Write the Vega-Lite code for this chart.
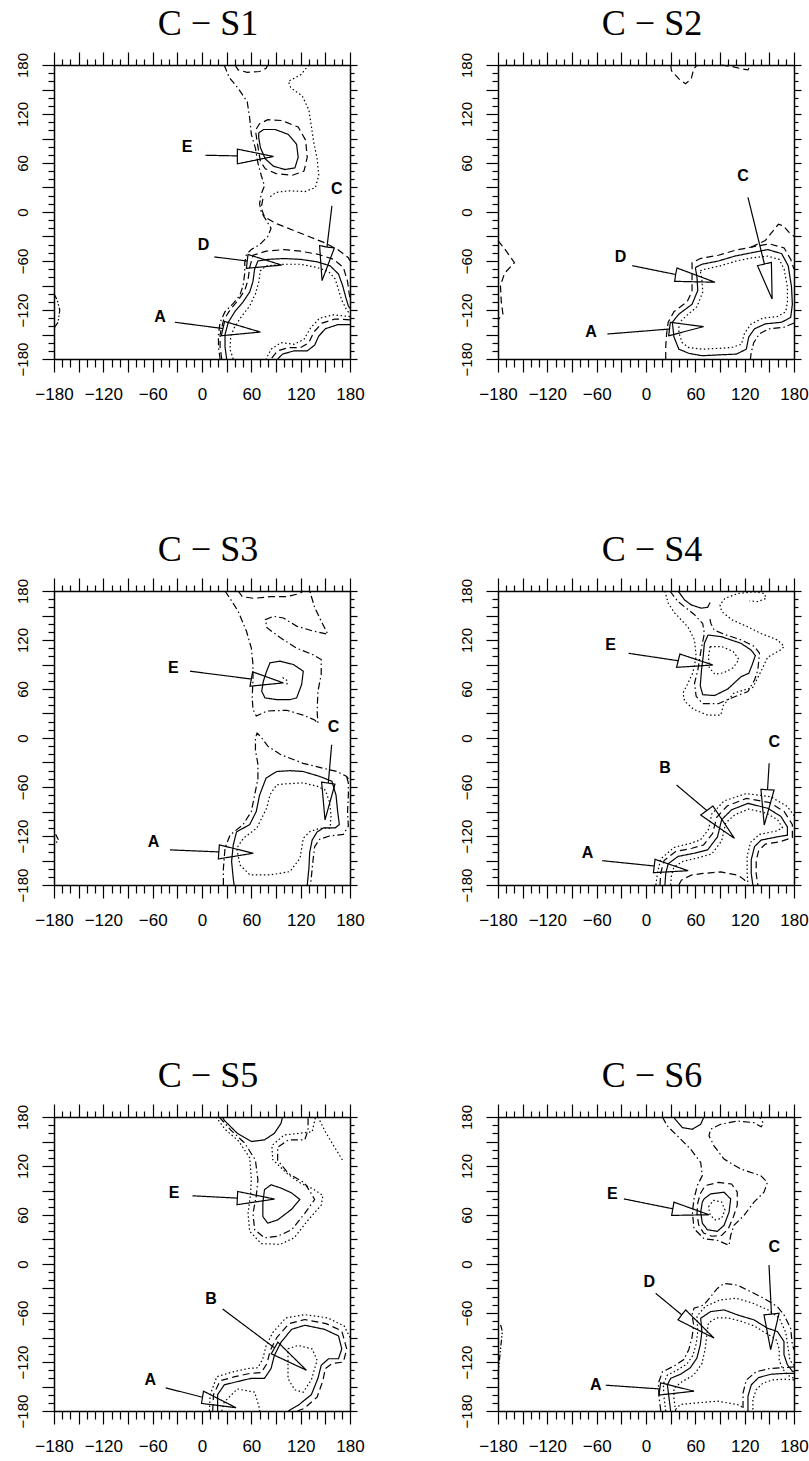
{
"$schema":"https://vega.github.io/schema/vega-lite/v6.json",
"background":"white",
"padding":{"left":14,"top":6,"right":2,"bottom":2},
"config":{
 "view":{"stroke":null},
 "title":{"font":"Liberation Serif","fontSize":36,"fontWeight":"normal","color":"black","anchor":"middle","frame":"group","offset":8,"dx":6},
 "axis":{"grid":false,"title":null,"domainColor":"black","domainWidth":1.5,"tickColor":"black","tickWidth":1.2,"labelColor":"black","labelFont":"Liberation Sans","labelFlush":false,"labelOverlap":false,"labelBound":false}
},
"datasets":{
"lines":[
{"p":1,"c":"a","s":"dd","x":27,"y":180},{"p":1,"c":"a","s":"dd","x":33,"y":165},{"p":1,"c":"a","s":"dd","x":45,"y":150},{"p":1,"c":"a","s":"dd","x":55,"y":135},{"p":1,"c":"a","s":"dd","x":58,"y":115},{"p":1,"c":"a","s":"dd","x":60,"y":95},{"p":1,"c":"a","s":"dd","x":65,"y":78},{"p":1,"c":"a","s":"dd","x":68,"y":60},{"p":1,"c":"a","s":"dd","x":72,"y":45},{"p":1,"c":"a","s":"dd","x":76,"y":32},{"p":1,"c":"a","s":"dd","x":72,"y":22},{"p":1,"c":"a","s":"dd","x":70,"y":10},{"p":1,"c":"a","s":"dd","x":72,"y":0},{"p":1,"c":"a","s":"dd","x":78,"y":-10},{"p":1,"c":"a","s":"dd","x":84,"y":-20},{"p":1,"c":"a","s":"dd","x":80,"y":-30},{"p":1,"c":"a","s":"dd","x":70,"y":-40},{"p":1,"c":"a","s":"dd","x":60,"y":-46},{"p":1,"c":"a","s":"dd","x":54,"y":-52},{"p":1,"c":"a","s":"dd","x":52,"y":-62},{"p":1,"c":"a","s":"dd","x":52,"y":-75},{"p":1,"c":"a","s":"dd","x":50,"y":-90},{"p":1,"c":"a","s":"dd","x":46,"y":-102},{"p":1,"c":"a","s":"dd","x":38,"y":-112},{"p":1,"c":"a","s":"dd","x":28,"y":-122},{"p":1,"c":"a","s":"dd","x":22,"y":-135},{"p":1,"c":"a","s":"dd","x":20,"y":-150},{"p":1,"c":"a","s":"dd","x":20,"y":-165},{"p":1,"c":"a","s":"dd","x":22,"y":-180},
{"p":1,"c":"b","s":"dot","x":130,"y":180},{"p":1,"c":"b","s":"dot","x":120,"y":168},{"p":1,"c":"b","s":"dot","x":105,"y":160},{"p":1,"c":"b","s":"dot","x":108,"y":152},{"p":1,"c":"b","s":"dot","x":122,"y":142},{"p":1,"c":"b","s":"dot","x":130,"y":125},{"p":1,"c":"b","s":"dot","x":133,"y":105},{"p":1,"c":"b","s":"dot","x":136,"y":85},{"p":1,"c":"b","s":"dot","x":140,"y":65},{"p":1,"c":"b","s":"dot","x":142,"y":45},{"p":1,"c":"b","s":"dot","x":138,"y":30},{"p":1,"c":"b","s":"dot","x":125,"y":25},{"p":1,"c":"b","s":"dot","x":105,"y":26},{"p":1,"c":"b","s":"dot","x":90,"y":24},{"p":1,"c":"b","s":"dot","x":82,"y":18},
{"p":1,"c":"c","s":"dash","x":74,"y":16},{"p":1,"c":"c","s":"dash","x":72,"y":5},{"p":1,"c":"c","s":"dash","x":76,"y":-6},{"p":1,"c":"c","s":"dash","x":90,"y":-14},{"p":1,"c":"c","s":"dash","x":110,"y":-22},{"p":1,"c":"c","s":"dash","x":130,"y":-30},{"p":1,"c":"c","s":"dash","x":150,"y":-38},{"p":1,"c":"c","s":"dash","x":165,"y":-46},{"p":1,"c":"c","s":"dash","x":178,"y":-56},{"p":1,"c":"c","s":"dash","x":180,"y":-60},
{"p":1,"c":"d","s":"dash","x":40,"y":180},{"p":1,"c":"d","s":"dash","x":44,"y":174},{"p":1,"c":"d","s":"dash","x":55,"y":171},{"p":1,"c":"d","s":"dash","x":70,"y":172},{"p":1,"c":"d","s":"dash","x":78,"y":176},{"p":1,"c":"d","s":"dash","x":80,"y":180},
{"p":1,"c":"e","s":"solid","x":69,"y":97},{"p":1,"c":"e","s":"solid","x":75,"y":101},{"p":1,"c":"e","s":"solid","x":89,"y":101},{"p":1,"c":"e","s":"solid","x":105,"y":95},{"p":1,"c":"e","s":"solid","x":115,"y":83},{"p":1,"c":"e","s":"solid","x":117,"y":67},{"p":1,"c":"e","s":"solid","x":113,"y":54},{"p":1,"c":"e","s":"solid","x":101,"y":52},{"p":1,"c":"e","s":"solid","x":87,"y":56},{"p":1,"c":"e","s":"solid","x":77,"y":65},{"p":1,"c":"e","s":"solid","x":71,"y":79},{"p":1,"c":"e","s":"solid","x":69,"y":91},{"p":1,"c":"e","s":"solid","x":69,"y":97},
{"p":1,"c":"f","s":"dash","x":71,"y":62},{"p":1,"c":"f","s":"dash","x":68,"y":80},{"p":1,"c":"f","s":"dash","x":65,"y":100},{"p":1,"c":"f","s":"dash","x":70,"y":108},{"p":1,"c":"f","s":"dash","x":80,"y":113},{"p":1,"c":"f","s":"dash","x":97,"y":112},{"p":1,"c":"f","s":"dash","x":117,"y":104},{"p":1,"c":"f","s":"dash","x":126,"y":88},{"p":1,"c":"f","s":"dash","x":128,"y":67},{"p":1,"c":"f","s":"dash","x":124,"y":50},{"p":1,"c":"f","s":"dash","x":110,"y":45},{"p":1,"c":"f","s":"dash","x":90,"y":47},{"p":1,"c":"f","s":"dash","x":77,"y":53},{"p":1,"c":"f","s":"dash","x":71,"y":62},
{"p":1,"c":"g","s":"solid","x":30,"y":-180},{"p":1,"c":"g","s":"solid","x":28,"y":-165},{"p":1,"c":"g","s":"solid","x":28,"y":-150},{"p":1,"c":"g","s":"solid","x":32,"y":-135},{"p":1,"c":"g","s":"solid","x":40,"y":-122},{"p":1,"c":"g","s":"solid","x":50,"y":-110},{"p":1,"c":"g","s":"solid","x":58,"y":-98},{"p":1,"c":"g","s":"solid","x":62,"y":-85},{"p":1,"c":"g","s":"solid","x":64,"y":-70},{"p":1,"c":"g","s":"solid","x":68,"y":-60},{"p":1,"c":"g","s":"solid","x":80,"y":-58},{"p":1,"c":"g","s":"solid","x":100,"y":-57},{"p":1,"c":"g","s":"solid","x":120,"y":-58},{"p":1,"c":"g","s":"solid","x":140,"y":-61},{"p":1,"c":"g","s":"solid","x":156,"y":-66},{"p":1,"c":"g","s":"solid","x":166,"y":-76},{"p":1,"c":"g","s":"solid","x":171,"y":-90},{"p":1,"c":"g","s":"solid","x":175,"y":-105},{"p":1,"c":"g","s":"solid","x":178,"y":-115},{"p":1,"c":"g","s":"solid","x":180,"y":-118},
{"p":1,"c":"h","s":"dash","x":24,"y":-180},{"p":1,"c":"h","s":"dash","x":22,"y":-165},{"p":1,"c":"h","s":"dash","x":22,"y":-150},{"p":1,"c":"h","s":"dash","x":26,"y":-133},{"p":1,"c":"h","s":"dash","x":34,"y":-120},{"p":1,"c":"h","s":"dash","x":44,"y":-108},{"p":1,"c":"h","s":"dash","x":52,"y":-96},{"p":1,"c":"h","s":"dash","x":56,"y":-83},{"p":1,"c":"h","s":"dash","x":58,"y":-68},{"p":1,"c":"h","s":"dash","x":62,"y":-53},{"p":1,"c":"h","s":"dash","x":78,"y":-48},{"p":1,"c":"h","s":"dash","x":100,"y":-46},{"p":1,"c":"h","s":"dash","x":120,"y":-48},{"p":1,"c":"h","s":"dash","x":142,"y":-52},{"p":1,"c":"h","s":"dash","x":160,"y":-58},{"p":1,"c":"h","s":"dash","x":172,"y":-68},{"p":1,"c":"h","s":"dash","x":177,"y":-85},{"p":1,"c":"h","s":"dash","x":179,"y":-100},{"p":1,"c":"h","s":"dash","x":180,"y":-105},
{"p":1,"c":"i","s":"dot","x":38,"y":-180},{"p":1,"c":"i","s":"dot","x":34,"y":-168},{"p":1,"c":"i","s":"dot","x":35,"y":-152},{"p":1,"c":"i","s":"dot","x":40,"y":-140},{"p":1,"c":"i","s":"dot","x":48,"y":-128},{"p":1,"c":"i","s":"dot","x":58,"y":-115},{"p":1,"c":"i","s":"dot","x":65,"y":-100},{"p":1,"c":"i","s":"dot","x":69,"y":-86},{"p":1,"c":"i","s":"dot","x":71,"y":-72},{"p":1,"c":"i","s":"dot","x":78,"y":-66},{"p":1,"c":"i","s":"dot","x":100,"y":-64},{"p":1,"c":"i","s":"dot","x":120,"y":-64},{"p":1,"c":"i","s":"dot","x":140,"y":-68},{"p":1,"c":"i","s":"dot","x":154,"y":-73},{"p":1,"c":"i","s":"dot","x":162,"y":-82},{"p":1,"c":"i","s":"dot","x":166,"y":-95},{"p":1,"c":"i","s":"dot","x":170,"y":-108},{"p":1,"c":"i","s":"dot","x":176,"y":-120},{"p":1,"c":"i","s":"dot","x":180,"y":-125},
{"p":1,"c":"k","s":"solid","x":180,"y":-138},{"p":1,"c":"k","s":"solid","x":165,"y":-138},{"p":1,"c":"k","s":"solid","x":150,"y":-143},{"p":1,"c":"k","s":"solid","x":142,"y":-152},{"p":1,"c":"k","s":"solid","x":137,"y":-163},{"p":1,"c":"k","s":"solid","x":128,"y":-170},{"p":1,"c":"k","s":"solid","x":112,"y":-170},{"p":1,"c":"k","s":"solid","x":98,"y":-174},{"p":1,"c":"k","s":"solid","x":92,"y":-180},
{"p":1,"c":"l","s":"dash","x":180,"y":-132},{"p":1,"c":"l","s":"dash","x":162,"y":-131},{"p":1,"c":"l","s":"dash","x":146,"y":-136},{"p":1,"c":"l","s":"dash","x":136,"y":-147},{"p":1,"c":"l","s":"dash","x":130,"y":-160},{"p":1,"c":"l","s":"dash","x":120,"y":-166},{"p":1,"c":"l","s":"dash","x":105,"y":-166},{"p":1,"c":"l","s":"dash","x":92,"y":-170},{"p":1,"c":"l","s":"dash","x":84,"y":-180},
{"p":1,"c":"m","s":"dot","x":180,"y":-128},{"p":1,"c":"m","s":"dot","x":160,"y":-126},{"p":1,"c":"m","s":"dot","x":143,"y":-130},{"p":1,"c":"m","s":"dot","x":132,"y":-142},{"p":1,"c":"m","s":"dot","x":124,"y":-156},{"p":1,"c":"m","s":"dot","x":112,"y":-162},{"p":1,"c":"m","s":"dot","x":96,"y":-160},{"p":1,"c":"m","s":"dot","x":84,"y":-168},{"p":1,"c":"m","s":"dot","x":78,"y":-180},
{"p":1,"c":"n","s":"ddd","x":-180,"y":-100},{"p":1,"c":"n","s":"ddd","x":-176,"y":-108},{"p":1,"c":"n","s":"ddd","x":-173,"y":-120},{"p":1,"c":"n","s":"ddd","x":-175,"y":-135},{"p":1,"c":"n","s":"ddd","x":-180,"y":-142},
{"p":1,"c":"aE","s":"arrow","x":4,"y":69.5},{"p":1,"c":"aE","s":"arrow","x":43,"y":68.7},{"p":1,"c":"aE","s":"arrow","x":43,"y":77},{"p":1,"c":"aE","s":"arrow","x":87,"y":68},{"p":1,"c":"aE","s":"arrow","x":43,"y":59},{"p":1,"c":"aE","s":"arrow","x":43,"y":68.7},
{"p":1,"c":"aD","s":"arrow","x":15,"y":-55},{"p":1,"c":"aD","s":"arrow","x":55,"y":-60},{"p":1,"c":"aD","s":"arrow","x":56,"y":-52},{"p":1,"c":"aD","s":"arrow","x":97,"y":-65},{"p":1,"c":"aD","s":"arrow","x":54,"y":-69},{"p":1,"c":"aD","s":"arrow","x":55,"y":-60},
{"p":1,"c":"aC","s":"arrow","x":158,"y":7.5},{"p":1,"c":"aC","s":"arrow","x":152,"y":-43},{"p":1,"c":"aC","s":"arrow","x":143,"y":-41},{"p":1,"c":"aC","s":"arrow","x":146,"y":-84},{"p":1,"c":"aC","s":"arrow","x":161,"y":-44},{"p":1,"c":"aC","s":"arrow","x":152,"y":-43},
{"p":1,"c":"aA","s":"arrow","x":-33,"y":-135},{"p":1,"c":"aA","s":"arrow","x":25.5,"y":-142.7},{"p":1,"c":"aA","s":"arrow","x":27.5,"y":-134},{"p":1,"c":"aA","s":"arrow","x":71,"y":-147},{"p":1,"c":"aA","s":"arrow","x":23.5,"y":-151.5},{"p":1,"c":"aA","s":"arrow","x":25.5,"y":-142.7},

{"p":2,"c":"a","s":"dash","x":30,"y":180},{"p":2,"c":"a","s":"dash","x":31,"y":173},{"p":2,"c":"a","s":"dash","x":40,"y":163},{"p":2,"c":"a","s":"dash","x":48,"y":157},{"p":2,"c":"a","s":"dash","x":55,"y":163},{"p":2,"c":"a","s":"dash","x":58,"y":175},{"p":2,"c":"a","s":"dash","x":62,"y":180},
{"p":2,"c":"b","s":"dash","x":92,"y":180},{"p":2,"c":"b","s":"dash","x":105,"y":178},{"p":2,"c":"b","s":"dash","x":118,"y":175},{"p":2,"c":"b","s":"dash","x":124,"y":174},{"p":2,"c":"b","s":"dash","x":127,"y":180},
{"p":2,"c":"c","s":"dash","x":-180,"y":-35},{"p":2,"c":"c","s":"dash","x":-172,"y":-45},{"p":2,"c":"c","s":"dash","x":-160,"y":-62},{"p":2,"c":"c","s":"dash","x":-172,"y":-75},{"p":2,"c":"c","s":"dash","x":-177,"y":-90},{"p":2,"c":"c","s":"dash","x":-176,"y":-110},{"p":2,"c":"c","s":"dash","x":-174,"y":-125},{"p":2,"c":"c","s":"dash","x":-180,"y":-132},
{"p":2,"c":"d","s":"solid","x":60,"y":-68},{"p":2,"c":"d","s":"solid","x":68,"y":-64},{"p":2,"c":"d","s":"solid","x":88,"y":-60},{"p":2,"c":"d","s":"solid","x":108,"y":-54},{"p":2,"c":"d","s":"solid","x":128,"y":-50},{"p":2,"c":"d","s":"solid","x":148,"y":-46},{"p":2,"c":"d","s":"solid","x":165,"y":-51},{"p":2,"c":"d","s":"solid","x":173,"y":-66},{"p":2,"c":"d","s":"solid","x":177,"y":-92},{"p":2,"c":"d","s":"solid","x":178,"y":-113},{"p":2,"c":"d","s":"solid","x":176,"y":-129},{"p":2,"c":"d","s":"solid","x":165,"y":-135},{"p":2,"c":"d","s":"solid","x":145,"y":-137},{"p":2,"c":"d","s":"solid","x":132,"y":-143},{"p":2,"c":"d","s":"solid","x":125,"y":-153},{"p":2,"c":"d","s":"solid","x":122,"y":-168},{"p":2,"c":"d","s":"solid","x":110,"y":-174},{"p":2,"c":"d","s":"solid","x":88,"y":-175},{"p":2,"c":"d","s":"solid","x":68,"y":-176},{"p":2,"c":"d","s":"solid","x":52,"y":-173},{"p":2,"c":"d","s":"solid","x":40,"y":-168},{"p":2,"c":"d","s":"solid","x":34,"y":-153},{"p":2,"c":"d","s":"solid","x":32,"y":-135},{"p":2,"c":"d","s":"solid","x":40,"y":-125},{"p":2,"c":"d","s":"solid","x":56,"y":-113},{"p":2,"c":"d","s":"solid","x":63,"y":-96},{"p":2,"c":"d","s":"solid","x":62,"y":-80},{"p":2,"c":"d","s":"solid","x":60,"y":-68},
{"p":2,"c":"e","s":"dash","x":24,"y":-180},{"p":2,"c":"e","s":"dash","x":24,"y":-165},{"p":2,"c":"e","s":"dash","x":25,"y":-150},{"p":2,"c":"e","s":"dash","x":27,"y":-135},{"p":2,"c":"e","s":"dash","x":34,"y":-122},{"p":2,"c":"e","s":"dash","x":50,"y":-110},{"p":2,"c":"e","s":"dash","x":56,"y":-97},{"p":2,"c":"e","s":"dash","x":56,"y":-80},{"p":2,"c":"e","s":"dash","x":56,"y":-62},{"p":2,"c":"e","s":"dash","x":66,"y":-57},{"p":2,"c":"e","s":"dash","x":88,"y":-53},{"p":2,"c":"e","s":"dash","x":108,"y":-47},{"p":2,"c":"e","s":"dash","x":128,"y":-43},{"p":2,"c":"e","s":"dash","x":150,"y":-39},{"p":2,"c":"e","s":"dash","x":168,"y":-44},{"p":2,"c":"e","s":"dash","x":176,"y":-58},{"p":2,"c":"e","s":"dash","x":180,"y":-70},
{"p":2,"c":"f","s":"dash","x":128,"y":-43},{"p":2,"c":"f","s":"dash","x":145,"y":-35},{"p":2,"c":"f","s":"dash","x":157,"y":-20},{"p":2,"c":"f","s":"dash","x":161,"y":-15},{"p":2,"c":"f","s":"dash","x":167,"y":-17},{"p":2,"c":"f","s":"dash","x":174,"y":-25},{"p":2,"c":"f","s":"dash","x":180,"y":-30},
{"p":2,"c":"g","s":"dd","x":180,"y":-136},{"p":2,"c":"g","s":"dd","x":168,"y":-141},{"p":2,"c":"g","s":"dd","x":150,"y":-143},{"p":2,"c":"g","s":"dd","x":138,"y":-149},{"p":2,"c":"g","s":"dd","x":131,"y":-160},{"p":2,"c":"g","s":"dd","x":128,"y":-172},{"p":2,"c":"g","s":"dd","x":127,"y":-180},
{"p":2,"c":"h","s":"dot","x":66,"y":-72},{"p":2,"c":"h","s":"dot","x":72,"y":-70},{"p":2,"c":"h","s":"dot","x":90,"y":-66},{"p":2,"c":"h","s":"dot","x":110,"y":-60},{"p":2,"c":"h","s":"dot","x":130,"y":-56},{"p":2,"c":"h","s":"dot","x":148,"y":-54},{"p":2,"c":"h","s":"dot","x":162,"y":-58},{"p":2,"c":"h","s":"dot","x":168,"y":-70},{"p":2,"c":"h","s":"dot","x":172,"y":-92},{"p":2,"c":"h","s":"dot","x":172,"y":-110},{"p":2,"c":"h","s":"dot","x":170,"y":-122},{"p":2,"c":"h","s":"dot","x":160,"y":-128},{"p":2,"c":"h","s":"dot","x":142,"y":-130},{"p":2,"c":"h","s":"dot","x":128,"y":-137},{"p":2,"c":"h","s":"dot","x":120,"y":-148},{"p":2,"c":"h","s":"dot","x":116,"y":-162},{"p":2,"c":"h","s":"dot","x":104,"y":-166},{"p":2,"c":"h","s":"dot","x":88,"y":-167},{"p":2,"c":"h","s":"dot","x":68,"y":-168},{"p":2,"c":"h","s":"dot","x":52,"y":-166},{"p":2,"c":"h","s":"dot","x":44,"y":-160},{"p":2,"c":"h","s":"dot","x":40,"y":-148},{"p":2,"c":"h","s":"dot","x":40,"y":-136},{"p":2,"c":"h","s":"dot","x":48,"y":-128},{"p":2,"c":"h","s":"dot","x":62,"y":-116},{"p":2,"c":"h","s":"dot","x":69,"y":-98},{"p":2,"c":"h","s":"dot","x":68,"y":-82},{"p":2,"c":"h","s":"dot","x":66,"y":-72},
{"p":2,"c":"aD","s":"arrow","x":-16.7,"y":-65.7},{"p":2,"c":"aD","s":"arrow","x":36,"y":-76.5},{"p":2,"c":"aD","s":"arrow","x":37.7,"y":-68.6},{"p":2,"c":"aD","s":"arrow","x":84,"y":-86},{"p":2,"c":"aD","s":"arrow","x":34.9,"y":-84.9},{"p":2,"c":"aD","s":"arrow","x":36,"y":-76.5},
{"p":2,"c":"aC","s":"arrow","x":124,"y":18},{"p":2,"c":"aC","s":"arrow","x":144,"y":-63.7},{"p":2,"c":"aC","s":"arrow","x":135.6,"y":-65.7},{"p":2,"c":"aC","s":"arrow","x":153.4,"y":-106.6},{"p":2,"c":"aC","s":"arrow","x":152.5,"y":-61.7},{"p":2,"c":"aC","s":"arrow","x":144,"y":-63.7},
{"p":2,"c":"aA","s":"arrow","x":-47,"y":-149.4},{"p":2,"c":"aA","s":"arrow","x":28.6,"y":-143.3},{"p":2,"c":"aA","s":"arrow","x":29.6,"y":-135.1},{"p":2,"c":"aA","s":"arrow","x":70,"y":-140.4},{"p":2,"c":"aA","s":"arrow","x":27.6,"y":-151.5},{"p":2,"c":"aA","s":"arrow","x":28.6,"y":-143.3},

{"p":3,"c":"a","s":"dd","x":28,"y":180},{"p":3,"c":"a","s":"dd","x":36,"y":168},{"p":3,"c":"a","s":"dd","x":44,"y":155},{"p":3,"c":"a","s":"dd","x":54,"y":131},{"p":3,"c":"a","s":"dd","x":60,"y":110},{"p":3,"c":"a","s":"dd","x":62,"y":90},{"p":3,"c":"a","s":"dd","x":62,"y":70},{"p":3,"c":"a","s":"dd","x":61,"y":50},{"p":3,"c":"a","s":"dd","x":62,"y":35},{"p":3,"c":"a","s":"dd","x":66,"y":27},{"p":3,"c":"a","s":"dd","x":79,"y":33},{"p":3,"c":"a","s":"dd","x":103,"y":34},{"p":3,"c":"a","s":"dd","x":123,"y":28},{"p":3,"c":"a","s":"dd","x":137,"y":22},{"p":3,"c":"a","s":"dd","x":141,"y":18},{"p":3,"c":"a","s":"dd","x":140,"y":33},{"p":3,"c":"a","s":"dd","x":141,"y":57},{"p":3,"c":"a","s":"dd","x":145,"y":78},{"p":3,"c":"a","s":"dd","x":145,"y":96},{"p":3,"c":"a","s":"dd","x":135,"y":102},{"p":3,"c":"a","s":"dd","x":115,"y":110},{"p":3,"c":"a","s":"dd","x":95,"y":123},{"p":3,"c":"a","s":"dd","x":79,"y":135},{"p":3,"c":"a","s":"dd","x":77,"y":145},{"p":3,"c":"a","s":"dd","x":87,"y":149},{"p":3,"c":"a","s":"dd","x":99,"y":147},{"p":3,"c":"a","s":"dd","x":115,"y":137},{"p":3,"c":"a","s":"dd","x":135,"y":131},{"p":3,"c":"a","s":"dd","x":153,"y":127},{"p":3,"c":"a","s":"dd","x":145,"y":143},{"p":3,"c":"a","s":"dd","x":137,"y":160},{"p":3,"c":"a","s":"dd","x":131,"y":180},
{"p":3,"c":"b","s":"dash","x":44,"y":180},{"p":3,"c":"b","s":"dash","x":49,"y":173},{"p":3,"c":"b","s":"dash","x":63,"y":171},{"p":3,"c":"b","s":"dash","x":83,"y":173},{"p":3,"c":"b","s":"dash","x":103,"y":173},{"p":3,"c":"b","s":"dash","x":119,"y":177},{"p":3,"c":"b","s":"dash","x":123,"y":180},
{"p":3,"c":"c","s":"solid","x":78.6,"y":81.8},{"p":3,"c":"c","s":"solid","x":82.7,"y":92},{"p":3,"c":"c","s":"solid","x":94.9,"y":94.1},{"p":3,"c":"c","s":"solid","x":111.1,"y":90},{"p":3,"c":"c","s":"solid","x":123.2,"y":81.8},{"p":3,"c":"c","s":"solid","x":121.2,"y":65.5},{"p":3,"c":"c","s":"solid","x":115.1,"y":49.1},{"p":3,"c":"c","s":"solid","x":107,"y":47},{"p":3,"c":"c","s":"solid","x":90.8,"y":47},{"p":3,"c":"c","s":"solid","x":76.6,"y":49.1},{"p":3,"c":"c","s":"solid","x":72.6,"y":57.3},{"p":3,"c":"c","s":"solid","x":74.6,"y":69.5},{"p":3,"c":"c","s":"solid","x":78.6,"y":81.8},
{"p":3,"c":"d","s":"dot","x":98,"y":74},{"p":3,"c":"d","s":"dot","x":104,"y":70},{"p":3,"c":"d","s":"dot","x":103,"y":64},
{"p":3,"c":"e","s":"dd","x":26,"y":-180},{"p":3,"c":"e","s":"dd","x":26,"y":-160},{"p":3,"c":"e","s":"dd","x":28,"y":-135},{"p":3,"c":"e","s":"dd","x":34,"y":-119},{"p":3,"c":"e","s":"dd","x":50,"y":-106},{"p":3,"c":"e","s":"dd","x":60,"y":-90},{"p":3,"c":"e","s":"dd","x":64,"y":-70},{"p":3,"c":"e","s":"dd","x":68,"y":-50},{"p":3,"c":"e","s":"dd","x":68,"y":-32},{"p":3,"c":"e","s":"dd","x":65,"y":-15},{"p":3,"c":"e","s":"dd","x":65,"y":0},{"p":3,"c":"e","s":"dd","x":67,"y":6},{"p":3,"c":"e","s":"dd","x":72,"y":1},{"p":3,"c":"e","s":"dd","x":80,"y":-10},{"p":3,"c":"e","s":"dd","x":95,"y":-20},{"p":3,"c":"e","s":"dd","x":123,"y":-31},{"p":3,"c":"e","s":"dd","x":143,"y":-36},{"p":3,"c":"e","s":"dd","x":164,"y":-41},{"p":3,"c":"e","s":"dd","x":176,"y":-47},{"p":3,"c":"e","s":"dd","x":180,"y":-53},
{"p":3,"c":"f","s":"solid","x":39,"y":-180},{"p":3,"c":"f","s":"solid","x":38,"y":-172},{"p":3,"c":"f","s":"solid","x":36,"y":-151},{"p":3,"c":"f","s":"solid","x":38,"y":-131},{"p":3,"c":"f","s":"solid","x":42,"y":-115},{"p":3,"c":"f","s":"solid","x":58,"y":-106},{"p":3,"c":"f","s":"solid","x":66,"y":-90},{"p":3,"c":"f","s":"solid","x":70,"y":-70},{"p":3,"c":"f","s":"solid","x":78,"y":-49},{"p":3,"c":"f","s":"solid","x":91,"y":-41},{"p":3,"c":"f","s":"solid","x":107,"y":-40},{"p":3,"c":"f","s":"solid","x":123,"y":-41},{"p":3,"c":"f","s":"solid","x":143,"y":-47},{"p":3,"c":"f","s":"solid","x":158,"y":-53},{"p":3,"c":"f","s":"solid","x":163,"y":-70},{"p":3,"c":"f","s":"solid","x":165,"y":-90},{"p":3,"c":"f","s":"solid","x":167,"y":-106},{"p":3,"c":"f","s":"solid","x":162,"y":-110},{"p":3,"c":"f","s":"solid","x":148,"y":-110},{"p":3,"c":"f","s":"solid","x":140,"y":-115},{"p":3,"c":"f","s":"solid","x":134,"y":-125},{"p":3,"c":"f","s":"solid","x":131,"y":-140},{"p":3,"c":"f","s":"solid","x":130,"y":-160},{"p":3,"c":"f","s":"solid","x":128,"y":-180},
{"p":3,"c":"h","s":"dd","x":176,"y":-48},{"p":3,"c":"h","s":"dd","x":178,"y":-55},{"p":3,"c":"h","s":"dd","x":178,"y":-70},{"p":3,"c":"h","s":"dd","x":177,"y":-90},{"p":3,"c":"h","s":"dd","x":178,"y":-108},{"p":3,"c":"h","s":"dd","x":172,"y":-118},{"p":3,"c":"h","s":"dd","x":155,"y":-120},{"p":3,"c":"h","s":"dd","x":143,"y":-124},{"p":3,"c":"h","s":"dd","x":137,"y":-133},{"p":3,"c":"h","s":"dd","x":135,"y":-150},{"p":3,"c":"h","s":"dd","x":133,"y":-170},{"p":3,"c":"h","s":"dd","x":132,"y":-180},
{"p":3,"c":"i","s":"dot","x":155.7,"y":-110.5},{"p":3,"c":"i","s":"dot","x":143.5,"y":-110.5},{"p":3,"c":"i","s":"dot","x":131.3,"y":-114.5},{"p":3,"c":"i","s":"dot","x":123.2,"y":-122.7},{"p":3,"c":"i","s":"dot","x":119.2,"y":-147.3},{"p":3,"c":"i","s":"dot","x":107,"y":-163.6},{"p":3,"c":"i","s":"dot","x":82.7,"y":-167.7},{"p":3,"c":"i","s":"dot","x":58.4,"y":-167.7},{"p":3,"c":"i","s":"dot","x":46.2,"y":-155.5},{"p":3,"c":"i","s":"dot","x":42.2,"y":-135},{"p":3,"c":"i","s":"dot","x":50.3,"y":-122.7},{"p":3,"c":"i","s":"dot","x":66.5,"y":-110.5},{"p":3,"c":"i","s":"dot","x":78.6,"y":-85.9},{"p":3,"c":"i","s":"dot","x":82.7,"y":-69.5},{"p":3,"c":"i","s":"dot","x":90.8,"y":-57.3},{"p":3,"c":"i","s":"dot","x":103,"y":-56},{"p":3,"c":"i","s":"dot","x":123,"y":-55},{"p":3,"c":"i","s":"dot","x":140,"y":-59},{"p":3,"c":"i","s":"dot","x":150,"y":-64},{"p":3,"c":"i","s":"dot","x":155,"y":-78},{"p":3,"c":"i","s":"dot","x":157,"y":-95},{"p":3,"c":"i","s":"dot","x":155.7,"y":-110.5},
{"p":3,"c":"j","s":"ddd","x":-178,"y":-118},{"p":3,"c":"j","s":"ddd","x":-175,"y":-124},{"p":3,"c":"j","s":"ddd","x":-178,"y":-130},
{"p":3,"c":"aE","s":"arrow","x":-14.6,"y":81.8},{"p":3,"c":"aE","s":"arrow","x":60,"y":72.2},{"p":3,"c":"aE","s":"arrow","x":61.6,"y":81},{"p":3,"c":"aE","s":"arrow","x":98.9,"y":67.5},{"p":3,"c":"aE","s":"arrow","x":58.4,"y":63.4},{"p":3,"c":"aE","s":"arrow","x":60,"y":72.2},
{"p":3,"c":"aC","s":"arrow","x":157.7,"y":-8.2},{"p":3,"c":"aC","s":"arrow","x":153.6,"y":-55.2},{"p":3,"c":"aC","s":"arrow","x":145.5,"y":-54},{"p":3,"c":"aC","s":"arrow","x":149.6,"y":-100.2},{"p":3,"c":"aC","s":"arrow","x":161.7,"y":-56.5},{"p":3,"c":"aC","s":"arrow","x":153.6,"y":-55.2},
{"p":3,"c":"aA","s":"arrow","x":-38.9,"y":-137},{"p":3,"c":"aA","s":"arrow","x":20.5,"y":-139.5},{"p":3,"c":"aA","s":"arrow","x":21.1,"y":-130.9},{"p":3,"c":"aA","s":"arrow","x":62.4,"y":-141.1},{"p":3,"c":"aA","s":"arrow","x":19.9,"y":-148.1},{"p":3,"c":"aA","s":"arrow","x":20.5,"y":-139.5},

{"p":4,"c":"a","s":"dot","x":23,"y":180},{"p":4,"c":"a","s":"dot","x":27,"y":165},{"p":4,"c":"a","s":"dot","x":35,"y":153},{"p":4,"c":"a","s":"dot","x":51,"y":136},{"p":4,"c":"a","s":"dot","x":59,"y":120},{"p":4,"c":"a","s":"dot","x":61,"y":100},{"p":4,"c":"a","s":"dot","x":57,"y":80},{"p":4,"c":"a","s":"dot","x":50,"y":65},{"p":4,"c":"a","s":"dot","x":45,"y":55},{"p":4,"c":"a","s":"dot","x":47,"y":45},{"p":4,"c":"a","s":"dot","x":58,"y":35},{"p":4,"c":"a","s":"dot","x":75,"y":28},{"p":4,"c":"a","s":"dot","x":91,"y":28},{"p":4,"c":"a","s":"dot","x":94,"y":40},{"p":4,"c":"a","s":"dot","x":107,"y":55},{"p":4,"c":"a","s":"dot","x":130,"y":62},{"p":4,"c":"a","s":"dot","x":140,"y":82},{"p":4,"c":"a","s":"dot","x":148,"y":99},{"p":4,"c":"a","s":"dot","x":164,"y":108},{"p":4,"c":"a","s":"dot","x":168,"y":112},{"p":4,"c":"a","s":"dot","x":160,"y":120},{"p":4,"c":"a","s":"dot","x":140,"y":128},{"p":4,"c":"a","s":"dot","x":124,"y":136},{"p":4,"c":"a","s":"dot","x":104,"y":145},{"p":4,"c":"a","s":"dot","x":92,"y":155},{"p":4,"c":"a","s":"dot","x":90,"y":163},{"p":4,"c":"a","s":"dot","x":96,"y":171},{"p":4,"c":"a","s":"dot","x":112,"y":177},{"p":4,"c":"a","s":"dot","x":131,"y":179},{"p":4,"c":"a","s":"dot","x":144,"y":177},{"p":4,"c":"a","s":"dot","x":146,"y":171},{"p":4,"c":"a","s":"dot","x":136,"y":167},{"p":4,"c":"a","s":"dot","x":126,"y":168},
{"p":4,"c":"b","s":"dd","x":29,"y":180},{"p":4,"c":"b","s":"dd","x":39,"y":167},{"p":4,"c":"b","s":"dd","x":59,"y":151},{"p":4,"c":"b","s":"dd","x":69,"y":140},{"p":4,"c":"b","s":"dd","x":71,"y":128},{"p":4,"c":"b","s":"dd","x":67,"y":108},{"p":4,"c":"b","s":"dd","x":63,"y":83},{"p":4,"c":"b","s":"dd","x":59,"y":67},{"p":4,"c":"b","s":"dd","x":61,"y":51},{"p":4,"c":"b","s":"dd","x":69,"y":42},{"p":4,"c":"b","s":"dd","x":88,"y":42},{"p":4,"c":"b","s":"dd","x":104,"y":49},{"p":4,"c":"b","s":"dd","x":124,"y":57},{"p":4,"c":"b","s":"dd","x":132,"y":71},{"p":4,"c":"b","s":"dd","x":136,"y":83},{"p":4,"c":"b","s":"dd","x":138,"y":104},{"p":4,"c":"b","s":"dd","x":132,"y":112},{"p":4,"c":"b","s":"dd","x":116,"y":120},{"p":4,"c":"b","s":"dd","x":98,"y":126},{"p":4,"c":"b","s":"dd","x":83,"y":132},{"p":4,"c":"b","s":"dd","x":79,"y":140},{"p":4,"c":"b","s":"dd","x":77,"y":149},
{"p":4,"c":"c","s":"solid","x":75.4,"y":126.1},{"p":4,"c":"c","s":"solid","x":91.5,"y":124.1},{"p":4,"c":"c","s":"solid","x":115.6,"y":115.9},{"p":4,"c":"c","s":"solid","x":127.7,"y":107.7},{"p":4,"c":"c","s":"solid","x":133,"y":101},{"p":4,"c":"c","s":"solid","x":129,"y":89.4},{"p":4,"c":"c","s":"solid","x":125,"y":79.2},{"p":4,"c":"c","s":"solid","x":115.6,"y":75.1},{"p":4,"c":"c","s":"solid","x":99.5,"y":60},{"p":4,"c":"c","s":"solid","x":83.4,"y":52},{"p":4,"c":"c","s":"solid","x":69,"y":53},{"p":4,"c":"c","s":"solid","x":66,"y":64},{"p":4,"c":"c","s":"solid","x":67.5,"y":83.3},{"p":4,"c":"c","s":"solid","x":69.5,"y":99.6},{"p":4,"c":"c","s":"solid","x":71,"y":115.9},{"p":4,"c":"c","s":"solid","x":75.4,"y":126.1},
{"p":4,"c":"d","s":"dot","x":78,"y":112},{"p":4,"c":"d","s":"dot","x":92,"y":112},{"p":4,"c":"d","s":"dot","x":106,"y":106},{"p":4,"c":"d","s":"dot","x":113,"y":96},{"p":4,"c":"d","s":"dot","x":106,"y":86},{"p":4,"c":"d","s":"dot","x":95,"y":80},{"p":4,"c":"d","s":"dot","x":84,"y":78},{"p":4,"c":"d","s":"dot","x":77,"y":86},{"p":4,"c":"d","s":"dot","x":76,"y":100},{"p":4,"c":"d","s":"dot","x":78,"y":112},
{"p":4,"c":"e","s":"solid","x":39,"y":180},{"p":4,"c":"e","s":"solid","x":47,"y":169},{"p":4,"c":"e","s":"solid","x":55,"y":163},{"p":4,"c":"e","s":"solid","x":67,"y":159},{"p":4,"c":"e","s":"solid","x":75,"y":160},{"p":4,"c":"e","s":"solid","x":78,"y":166},
{"p":4,"c":"g","s":"solid","x":23,"y":-180},{"p":4,"c":"g","s":"solid","x":24,"y":-166},{"p":4,"c":"g","s":"solid","x":27,"y":-154},{"p":4,"c":"g","s":"solid","x":39,"y":-145},{"p":4,"c":"g","s":"solid","x":59,"y":-141},{"p":4,"c":"g","s":"solid","x":75,"y":-137},{"p":4,"c":"g","s":"solid","x":87,"y":-121},{"p":4,"c":"g","s":"solid","x":92,"y":-100},{"p":4,"c":"g","s":"solid","x":104,"y":-88},{"p":4,"c":"g","s":"solid","x":124,"y":-80},{"p":4,"c":"g","s":"solid","x":148,"y":-86},{"p":4,"c":"g","s":"solid","x":164,"y":-96},{"p":4,"c":"g","s":"solid","x":172,"y":-109},{"p":4,"c":"g","s":"solid","x":172,"y":-119},{"p":4,"c":"g","s":"solid","x":160,"y":-121},{"p":4,"c":"g","s":"solid","x":140,"y":-125},{"p":4,"c":"g","s":"solid","x":132,"y":-133},{"p":4,"c":"g","s":"solid","x":128,"y":-149},{"p":4,"c":"g","s":"solid","x":128,"y":-166},{"p":4,"c":"g","s":"solid","x":130,"y":-180},
{"p":4,"c":"h","s":"dash","x":17,"y":-180},{"p":4,"c":"h","s":"dash","x":18,"y":-165},{"p":4,"c":"h","s":"dash","x":22,"y":-150},{"p":4,"c":"h","s":"dash","x":36,"y":-139},{"p":4,"c":"h","s":"dash","x":56,"y":-135},{"p":4,"c":"h","s":"dash","x":70,"y":-131},{"p":4,"c":"h","s":"dash","x":81,"y":-117},{"p":4,"c":"h","s":"dash","x":86,"y":-97},{"p":4,"c":"h","s":"dash","x":99,"y":-83},{"p":4,"c":"h","s":"dash","x":122,"y":-74},{"p":4,"c":"h","s":"dash","x":150,"y":-79},{"p":4,"c":"h","s":"dash","x":168,"y":-90},{"p":4,"c":"h","s":"dash","x":178,"y":-106},{"p":4,"c":"h","s":"dash","x":178,"y":-122},{"p":4,"c":"h","s":"dash","x":163,"y":-127},{"p":4,"c":"h","s":"dash","x":145,"y":-130},{"p":4,"c":"h","s":"dash","x":137,"y":-138},{"p":4,"c":"h","s":"dash","x":134,"y":-150},{"p":4,"c":"h","s":"dash","x":134,"y":-166},{"p":4,"c":"h","s":"dash","x":136,"y":-180},
{"p":4,"c":"i","s":"dot","x":12,"y":-180},{"p":4,"c":"i","s":"dot","x":14,"y":-165},{"p":4,"c":"i","s":"dot","x":18,"y":-148},{"p":4,"c":"i","s":"dot","x":34,"y":-134},{"p":4,"c":"i","s":"dot","x":54,"y":-129},{"p":4,"c":"i","s":"dot","x":66,"y":-125},{"p":4,"c":"i","s":"dot","x":76,"y":-112},{"p":4,"c":"i","s":"dot","x":80,"y":-93},{"p":4,"c":"i","s":"dot","x":95,"y":-77},{"p":4,"c":"i","s":"dot","x":122,"y":-68},{"p":4,"c":"i","s":"dot","x":152,"y":-72},{"p":4,"c":"i","s":"dot","x":172,"y":-84},{"p":4,"c":"i","s":"dot","x":180,"y":-95},
{"p":4,"c":"j","s":"dot","x":30,"y":-180},{"p":4,"c":"j","s":"dot","x":31,"y":-168},{"p":4,"c":"j","s":"dot","x":34,"y":-158},{"p":4,"c":"j","s":"dot","x":45,"y":-151},{"p":4,"c":"j","s":"dot","x":62,"y":-147},{"p":4,"c":"j","s":"dot","x":80,"y":-142},{"p":4,"c":"j","s":"dot","x":92,"y":-126},{"p":4,"c":"j","s":"dot","x":97,"y":-104},{"p":4,"c":"j","s":"dot","x":108,"y":-94},{"p":4,"c":"j","s":"dot","x":125,"y":-87},{"p":4,"c":"j","s":"dot","x":146,"y":-92},{"p":4,"c":"j","s":"dot","x":160,"y":-100},{"p":4,"c":"j","s":"dot","x":166,"y":-110},{"p":4,"c":"j","s":"dot","x":158,"y":-114},{"p":4,"c":"j","s":"dot","x":138,"y":-118},{"p":4,"c":"j","s":"dot","x":127,"y":-128},{"p":4,"c":"j","s":"dot","x":123,"y":-145},{"p":4,"c":"j","s":"dot","x":123,"y":-165},{"p":4,"c":"j","s":"dot","x":124,"y":-180},
{"p":4,"c":"k","s":"dash","x":40,"y":-180},{"p":4,"c":"k","s":"dash","x":43,"y":-174},{"p":4,"c":"k","s":"dash","x":55,"y":-168},{"p":4,"c":"k","s":"dash","x":67,"y":-166},{"p":4,"c":"k","s":"dash","x":91,"y":-164},{"p":4,"c":"k","s":"dash","x":112,"y":-168},{"p":4,"c":"k","s":"dash","x":120,"y":-174},{"p":4,"c":"k","s":"dash","x":121,"y":-180},
{"p":4,"c":"aE","s":"arrow","x":-21.1,"y":103.7},{"p":4,"c":"aE","s":"arrow","x":39.2,"y":94.6},{"p":4,"c":"aE","s":"arrow","x":41.2,"y":102.8},{"p":4,"c":"aE","s":"arrow","x":81.4,"y":89.4},{"p":4,"c":"aE","s":"arrow","x":37.2,"y":86.5},{"p":4,"c":"aE","s":"arrow","x":39.2,"y":94.6},
{"p":4,"c":"aB","s":"arrow","x":37.2,"y":-57.6},{"p":4,"c":"aB","s":"arrow","x":74,"y":-88.8},{"p":4,"c":"aB","s":"arrow","x":81.4,"y":-83.3},{"p":4,"c":"aB","s":"arrow","x":107.6,"y":-122.9},{"p":4,"c":"aB","s":"arrow","x":66.5,"y":-94.3},{"p":4,"c":"aB","s":"arrow","x":74,"y":-88.8},
{"p":4,"c":"aC","s":"arrow","x":149.8,"y":-31},{"p":4,"c":"aC","s":"arrow","x":147.8,"y":-63.3},{"p":4,"c":"aC","s":"arrow","x":139.8,"y":-62.9},{"p":4,"c":"aC","s":"arrow","x":143.8,"y":-106.6},{"p":4,"c":"aC","s":"arrow","x":155.8,"y":-63.7},{"p":4,"c":"aC","s":"arrow","x":147.8,"y":-63.3},
{"p":4,"c":"aA","s":"arrow","x":-53.3,"y":-150.2},{"p":4,"c":"aA","s":"arrow","x":10,"y":-156.7},{"p":4,"c":"aA","s":"arrow","x":11,"y":-148.6},{"p":4,"c":"aA","s":"arrow","x":51.3,"y":-162.5},{"p":4,"c":"aA","s":"arrow","x":9,"y":-164.9},{"p":4,"c":"aA","s":"arrow","x":10,"y":-156.7},

{"p":5,"c":"a","s":"dd","x":21,"y":180},{"p":5,"c":"a","s":"dd","x":35,"y":164},{"p":5,"c":"a","s":"dd","x":52,"y":148},{"p":5,"c":"a","s":"dd","x":65,"y":127},{"p":5,"c":"a","s":"dd","x":68,"y":103},{"p":5,"c":"a","s":"dd","x":66,"y":83},{"p":5,"c":"a","s":"dd","x":62,"y":62},{"p":5,"c":"a","s":"dd","x":64,"y":42},{"p":5,"c":"a","s":"dd","x":76,"y":32},{"p":5,"c":"a","s":"dd","x":92,"y":34},{"p":5,"c":"a","s":"dd","x":109,"y":42},{"p":5,"c":"a","s":"dd","x":125,"y":62},{"p":5,"c":"a","s":"dd","x":137,"y":79},{"p":5,"c":"a","s":"dd","x":133,"y":86},{"p":5,"c":"a","s":"dd","x":125,"y":99},{"p":5,"c":"a","s":"dd","x":105,"y":111},{"p":5,"c":"a","s":"dd","x":92,"y":127},{"p":5,"c":"a","s":"dd","x":92,"y":143},{"p":5,"c":"a","s":"dd","x":105,"y":152},{"p":5,"c":"a","s":"dd","x":125,"y":152},{"p":5,"c":"a","s":"dd","x":129,"y":164},{"p":5,"c":"a","s":"dd","x":129,"y":180},
{"p":5,"c":"b","s":"dot","x":17,"y":180},{"p":5,"c":"b","s":"dot","x":28,"y":165},{"p":5,"c":"b","s":"dot","x":45,"y":150},{"p":5,"c":"b","s":"dot","x":58,"y":130},{"p":5,"c":"b","s":"dot","x":60,"y":105},{"p":5,"c":"b","s":"dot","x":59,"y":85},{"p":5,"c":"b","s":"dot","x":56,"y":62},{"p":5,"c":"b","s":"dot","x":58,"y":40},{"p":5,"c":"b","s":"dot","x":72,"y":25},{"p":5,"c":"b","s":"dot","x":95,"y":24},{"p":5,"c":"b","s":"dot","x":112,"y":32},{"p":5,"c":"b","s":"dot","x":130,"y":55},{"p":5,"c":"b","s":"dot","x":145,"y":72},{"p":5,"c":"b","s":"dot","x":147,"y":84},{"p":5,"c":"b","s":"dot","x":135,"y":92},{"p":5,"c":"b","s":"dot","x":118,"y":100},{"p":5,"c":"b","s":"dot","x":102,"y":112},{"p":5,"c":"b","s":"dot","x":86,"y":128},{"p":5,"c":"b","s":"dot","x":85,"y":145},{"p":5,"c":"b","s":"dot","x":100,"y":158},{"p":5,"c":"b","s":"dot","x":118,"y":160},{"p":5,"c":"b","s":"dot","x":134,"y":162},{"p":5,"c":"b","s":"dot","x":138,"y":180},
{"p":5,"c":"c","s":"solid","x":76,"y":91},{"p":5,"c":"c","s":"solid","x":84,"y":97},{"p":5,"c":"c","s":"solid","x":96,"y":93},{"p":5,"c":"c","s":"solid","x":109,"y":87},{"p":5,"c":"c","s":"solid","x":119,"y":79},{"p":5,"c":"c","s":"solid","x":109,"y":67},{"p":5,"c":"c","s":"solid","x":92,"y":54},{"p":5,"c":"c","s":"solid","x":80,"y":50},{"p":5,"c":"c","s":"solid","x":74,"y":58},{"p":5,"c":"c","s":"solid","x":74,"y":75},{"p":5,"c":"c","s":"solid","x":76,"y":91},
{"p":5,"c":"d","s":"solid","x":25,"y":180},{"p":5,"c":"d","s":"solid","x":27,"y":176},{"p":5,"c":"d","s":"solid","x":43,"y":160},{"p":5,"c":"d","s":"solid","x":60,"y":150},{"p":5,"c":"d","s":"solid","x":76,"y":152},{"p":5,"c":"d","s":"solid","x":88,"y":160},{"p":5,"c":"d","s":"solid","x":96,"y":172},{"p":5,"c":"d","s":"solid","x":98,"y":180},
{"p":5,"c":"f","s":"dot","x":141,"y":180},{"p":5,"c":"f","s":"dot","x":150,"y":162},{"p":5,"c":"f","s":"dot","x":160,"y":145},{"p":5,"c":"f","s":"dot","x":168,"y":132},{"p":5,"c":"f","s":"dot","x":172,"y":125},
{"p":5,"c":"g","s":"solid","x":19,"y":-180},{"p":5,"c":"g","s":"solid","x":19,"y":-160},{"p":5,"c":"g","s":"solid","x":27,"y":-148},{"p":5,"c":"g","s":"solid","x":43,"y":-144},{"p":5,"c":"g","s":"solid","x":60,"y":-140},{"p":5,"c":"g","s":"solid","x":76,"y":-140},{"p":5,"c":"g","s":"solid","x":84,"y":-128},{"p":5,"c":"g","s":"solid","x":88,"y":-112},{"p":5,"c":"g","s":"solid","x":96,"y":-96},{"p":5,"c":"g","s":"solid","x":109,"y":-80},{"p":5,"c":"g","s":"solid","x":125,"y":-75},{"p":5,"c":"g","s":"solid","x":149,"y":-80},{"p":5,"c":"g","s":"solid","x":166,"y":-88},{"p":5,"c":"g","s":"solid","x":170,"y":-104},{"p":5,"c":"g","s":"solid","x":166,"y":-116},{"p":5,"c":"g","s":"solid","x":154,"y":-116},{"p":5,"c":"g","s":"solid","x":145,"y":-124},{"p":5,"c":"g","s":"solid","x":141,"y":-140},{"p":5,"c":"g","s":"solid","x":133,"y":-160},{"p":5,"c":"g","s":"solid","x":117,"y":-173},{"p":5,"c":"g","s":"solid","x":105,"y":-180},
{"p":5,"c":"h","s":"dash","x":13,"y":-180},{"p":5,"c":"h","s":"dash","x":14,"y":-160},{"p":5,"c":"h","s":"dash","x":22,"y":-143},{"p":5,"c":"h","s":"dash","x":40,"y":-138},{"p":5,"c":"h","s":"dash","x":58,"y":-134},{"p":5,"c":"h","s":"dash","x":72,"y":-133},{"p":5,"c":"h","s":"dash","x":79,"y":-122},{"p":5,"c":"h","s":"dash","x":83,"y":-106},{"p":5,"c":"h","s":"dash","x":91,"y":-90},{"p":5,"c":"h","s":"dash","x":106,"y":-73},{"p":5,"c":"h","s":"dash","x":125,"y":-68},{"p":5,"c":"h","s":"dash","x":151,"y":-73},{"p":5,"c":"h","s":"dash","x":170,"y":-82},{"p":5,"c":"h","s":"dash","x":176,"y":-104},{"p":5,"c":"h","s":"dash","x":172,"y":-120},{"p":5,"c":"h","s":"dash","x":158,"y":-122},{"p":5,"c":"h","s":"dash","x":150,"y":-128},{"p":5,"c":"h","s":"dash","x":147,"y":-143},{"p":5,"c":"h","s":"dash","x":140,"y":-163},{"p":5,"c":"h","s":"dash","x":124,"y":-177},{"p":5,"c":"h","s":"dash","x":116,"y":-180},
{"p":5,"c":"i","s":"dot","x":9,"y":-180},{"p":5,"c":"i","s":"dot","x":10,"y":-160},{"p":5,"c":"i","s":"dot","x":18,"y":-138},{"p":5,"c":"i","s":"dot","x":38,"y":-132},{"p":5,"c":"i","s":"dot","x":56,"y":-128},{"p":5,"c":"i","s":"dot","x":68,"y":-127},{"p":5,"c":"i","s":"dot","x":74,"y":-116},{"p":5,"c":"i","s":"dot","x":78,"y":-100},{"p":5,"c":"i","s":"dot","x":86,"y":-84},{"p":5,"c":"i","s":"dot","x":102,"y":-66},{"p":5,"c":"i","s":"dot","x":125,"y":-62},{"p":5,"c":"i","s":"dot","x":153,"y":-66},{"p":5,"c":"i","s":"dot","x":173,"y":-76},{"p":5,"c":"i","s":"dot","x":180,"y":-90},
{"p":5,"c":"j","s":"dot","x":104.6,"y":-103.8},{"p":5,"c":"j","s":"dot","x":116.8,"y":-99.7},{"p":5,"c":"j","s":"dot","x":134,"y":-104},{"p":5,"c":"j","s":"dot","x":140,"y":-118},{"p":5,"c":"j","s":"dot","x":133,"y":-142},{"p":5,"c":"j","s":"dot","x":123,"y":-157},{"p":5,"c":"j","s":"dot","x":112.7,"y":-154},{"p":5,"c":"j","s":"dot","x":104.6,"y":-140.3},{"p":5,"c":"j","s":"dot","x":104.6,"y":-120},{"p":5,"c":"j","s":"dot","x":104.6,"y":-103.8},
{"p":5,"c":"k","s":"dot","x":24,"y":-180},{"p":5,"c":"k","s":"dot","x":27,"y":-169},{"p":5,"c":"k","s":"dot","x":43,"y":-153},{"p":5,"c":"k","s":"dot","x":64,"y":-157},{"p":5,"c":"k","s":"dot","x":70,"y":-177},{"p":5,"c":"k","s":"dot","x":70,"y":-180},
{"p":5,"c":"aE","s":"arrow","x":-11.6,"y":83.5},{"p":5,"c":"aE","s":"arrow","x":43,"y":80.7},{"p":5,"c":"aE","s":"arrow","x":43.4,"y":88.8},{"p":5,"c":"aE","s":"arrow","x":88.3,"y":79.5},{"p":5,"c":"aE","s":"arrow","x":42.6,"y":72.6},{"p":5,"c":"aE","s":"arrow","x":43,"y":80.7},
{"p":5,"c":"aB","s":"arrow","x":25.1,"y":-55.1},{"p":5,"c":"aB","s":"arrow","x":88.3,"y":-102.8},{"p":5,"c":"aB","s":"arrow","x":92.3,"y":-95.7},{"p":5,"c":"aB","s":"arrow","x":127,"y":-130.1},{"p":5,"c":"aB","s":"arrow","x":84.2,"y":-109.9},{"p":5,"c":"aB","s":"arrow","x":88.3,"y":-102.8},
{"p":5,"c":"aA","s":"arrow","x":-44.2,"y":-151.6},{"p":5,"c":"aA","s":"arrow","x":0.6,"y":-163.2},{"p":5,"c":"aA","s":"arrow","x":1.8,"y":-155.7},{"p":5,"c":"aA","s":"arrow","x":41.4,"y":-176},{"p":5,"c":"aA","s":"arrow","x":-0.6,"y":-170.7},{"p":5,"c":"aA","s":"arrow","x":0.6,"y":-163.2},

{"p":6,"c":"a","s":"dd","x":19.9,"y":180},{"p":6,"c":"a","s":"dd","x":26,"y":169},{"p":6,"c":"a","s":"dd","x":38.1,"y":156.9},{"p":6,"c":"a","s":"dd","x":54.3,"y":140.6},{"p":6,"c":"a","s":"dd","x":66.5,"y":124.4},{"p":6,"c":"a","s":"dd","x":68.5,"y":108.2},{"p":6,"c":"a","s":"dd","x":62.4,"y":96},{"p":6,"c":"a","s":"dd","x":58.4,"y":79.7},{"p":6,"c":"a","s":"dd","x":56.4,"y":63.5},{"p":6,"c":"a","s":"dd","x":58.4,"y":43.2},{"p":6,"c":"a","s":"dd","x":70.5,"y":31},{"p":6,"c":"a","s":"dd","x":86.8,"y":29},{"p":6,"c":"a","s":"dd","x":101,"y":22.9},{"p":6,"c":"a","s":"dd","x":103,"y":35.1},{"p":6,"c":"a","s":"dd","x":107,"y":47.3},{"p":6,"c":"a","s":"dd","x":119.2,"y":59.5},{"p":6,"c":"a","s":"dd","x":131.3,"y":75.7},{"p":6,"c":"a","s":"dd","x":143.5,"y":87.9},{"p":6,"c":"a","s":"dd","x":147.6,"y":100},{"p":6,"c":"a","s":"dd","x":139.5,"y":108.2},{"p":6,"c":"a","s":"dd","x":115.1,"y":116.3},{"p":6,"c":"a","s":"dd","x":94.9,"y":128.5},{"p":6,"c":"a","s":"dd","x":82.7,"y":144.7},{"p":6,"c":"a","s":"dd","x":76.6,"y":156.9},{"p":6,"c":"a","s":"dd","x":78.6,"y":165},{"p":6,"c":"a","s":"dd","x":90.8,"y":171.1},{"p":6,"c":"a","s":"dd","x":111.1,"y":175.1},{"p":6,"c":"a","s":"dd","x":131.3,"y":173.1},{"p":6,"c":"a","s":"dd","x":140,"y":168},{"p":6,"c":"a","s":"dd","x":143,"y":172},{"p":6,"c":"a","s":"dd","x":138,"y":180},
{"p":6,"c":"b","s":"dash","x":66,"y":86},{"p":6,"c":"b","s":"dash","x":72,"y":96},{"p":6,"c":"b","s":"dash","x":88,"y":100},{"p":6,"c":"b","s":"dash","x":104,"y":98},{"p":6,"c":"b","s":"dash","x":111,"y":88},{"p":6,"c":"b","s":"dash","x":111,"y":72},{"p":6,"c":"b","s":"dash","x":106,"y":57},{"p":6,"c":"b","s":"dash","x":100,"y":43},{"p":6,"c":"b","s":"dash","x":92,"y":35},{"p":6,"c":"b","s":"dash","x":80,"y":34},{"p":6,"c":"b","s":"dash","x":70,"y":38},{"p":6,"c":"b","s":"dash","x":64,"y":48},{"p":6,"c":"b","s":"dash","x":62,"y":62},{"p":6,"c":"b","s":"dash","x":63,"y":75},{"p":6,"c":"b","s":"dash","x":66,"y":86},
{"p":6,"c":"c","s":"solid","x":70.5,"y":79.7},{"p":6,"c":"c","s":"solid","x":78.6,"y":85.8},{"p":6,"c":"c","s":"solid","x":94.9,"y":87.9},{"p":6,"c":"c","s":"solid","x":103,"y":79.7},{"p":6,"c":"c","s":"solid","x":101,"y":63.5},{"p":6,"c":"c","s":"solid","x":94.9,"y":47.3},{"p":6,"c":"c","s":"solid","x":86.8,"y":40},{"p":6,"c":"c","s":"solid","x":74.6,"y":42},{"p":6,"c":"c","s":"solid","x":68.5,"y":50},{"p":6,"c":"c","s":"solid","x":66.5,"y":63.5},{"p":6,"c":"c","s":"solid","x":68.5,"y":75.7},{"p":6,"c":"c","s":"solid","x":70.5,"y":79.7},
{"p":6,"c":"d","s":"dot","x":76,"y":70},{"p":6,"c":"d","s":"dot","x":82,"y":78},{"p":6,"c":"d","s":"dot","x":92,"y":76},{"p":6,"c":"d","s":"dot","x":96,"y":66},{"p":6,"c":"d","s":"dot","x":92,"y":56},{"p":6,"c":"d","s":"dot","x":84,"y":54},{"p":6,"c":"d","s":"dot","x":78,"y":60},{"p":6,"c":"d","s":"dot","x":76,"y":70},
{"p":6,"c":"e","s":"solid","x":34,"y":180},{"p":6,"c":"e","s":"solid","x":35,"y":178},{"p":6,"c":"e","s":"solid","x":44.2,"y":167},{"p":6,"c":"e","s":"solid","x":56.4,"y":165},{"p":6,"c":"e","s":"solid","x":66.5,"y":171.1},{"p":6,"c":"e","s":"solid","x":70.5,"y":180},
{"p":6,"c":"g","s":"dd","x":18,"y":-180},{"p":6,"c":"g","s":"dd","x":16,"y":-164},{"p":6,"c":"g","s":"dd","x":15,"y":-146},{"p":6,"c":"g","s":"dd","x":20,"y":-132},{"p":6,"c":"g","s":"dd","x":34,"y":-125},{"p":6,"c":"g","s":"dd","x":46,"y":-117},{"p":6,"c":"g","s":"dd","x":52,"y":-105},{"p":6,"c":"g","s":"dd","x":56,"y":-90},{"p":6,"c":"g","s":"dd","x":58,"y":-75},{"p":6,"c":"g","s":"dd","x":56,"y":-62},{"p":6,"c":"g","s":"dd","x":58.4,"y":-54.2},{"p":6,"c":"g","s":"dd","x":70.5,"y":-50.1},{"p":6,"c":"g","s":"dd","x":86.8,"y":-29.9},{"p":6,"c":"g","s":"dd","x":94.9,"y":-23.8},{"p":6,"c":"g","s":"dd","x":111.1,"y":-25.8},{"p":6,"c":"g","s":"dd","x":127.3,"y":-33.9},{"p":6,"c":"g","s":"dd","x":143.5,"y":-42},{"p":6,"c":"g","s":"dd","x":159.7,"y":-52.2},{"p":6,"c":"g","s":"dd","x":167.8,"y":-62.3},{"p":6,"c":"g","s":"dd","x":175.9,"y":-78.6},{"p":6,"c":"g","s":"dd","x":178,"y":-98.9},{"p":6,"c":"g","s":"dd","x":180,"y":-105},
{"p":6,"c":"h","s":"dot","x":24,"y":-180},{"p":6,"c":"h","s":"dot","x":22,"y":-164},{"p":6,"c":"h","s":"dot","x":21,"y":-147},{"p":6,"c":"h","s":"dot","x":26,"y":-136},{"p":6,"c":"h","s":"dot","x":38,"y":-130},{"p":6,"c":"h","s":"dot","x":50,"y":-122},{"p":6,"c":"h","s":"dot","x":57,"y":-112},{"p":6,"c":"h","s":"dot","x":61,"y":-98},{"p":6,"c":"h","s":"dot","x":63,"y":-82},{"p":6,"c":"h","s":"dot","x":62,"y":-64},{"p":6,"c":"h","s":"dot","x":72,"y":-52},{"p":6,"c":"h","s":"dot","x":90,"y":-44},{"p":6,"c":"h","s":"dot","x":110,"y":-42},{"p":6,"c":"h","s":"dot","x":130,"y":-48},{"p":6,"c":"h","s":"dot","x":148,"y":-56},{"p":6,"c":"h","s":"dot","x":162,"y":-66},{"p":6,"c":"h","s":"dot","x":170,"y":-84},{"p":6,"c":"h","s":"dot","x":173,"y":-104},{"p":6,"c":"h","s":"dot","x":175,"y":-118},{"p":6,"c":"h","s":"dot","x":180,"y":-124},
{"p":6,"c":"s","s":"solid","x":30,"y":-180},{"p":6,"c":"s","s":"solid","x":28,"y":-164},{"p":6,"c":"s","s":"solid","x":26,"y":-148},{"p":6,"c":"s","s":"solid","x":30,"y":-140},{"p":6,"c":"s","s":"solid","x":42,"y":-135},{"p":6,"c":"s","s":"solid","x":54,"y":-127},{"p":6,"c":"s","s":"solid","x":62,"y":-115},{"p":6,"c":"s","s":"solid","x":66,"y":-99},{"p":6,"c":"s","s":"solid","x":68,"y":-83},{"p":6,"c":"s","s":"solid","x":66.5,"y":-66.4},{"p":6,"c":"s","s":"solid","x":78.6,"y":-58.3},{"p":6,"c":"s","s":"solid","x":94.9,"y":-56.2},{"p":6,"c":"s","s":"solid","x":111.1,"y":-62.3},{"p":6,"c":"s","s":"solid","x":131.3,"y":-68.4},{"p":6,"c":"s","s":"solid","x":147.6,"y":-78.6},{"p":6,"c":"s","s":"solid","x":159.7,"y":-82.6},{"p":6,"c":"s","s":"solid","x":167.8,"y":-94.8},{"p":6,"c":"s","s":"solid","x":167.8,"y":-111},{"p":6,"c":"s","s":"solid","x":171.9,"y":-123.2},{"p":6,"c":"s","s":"solid","x":178,"y":-131.3},{"p":6,"c":"s","s":"solid","x":180,"y":-132},
{"p":6,"c":"t","s":"dot","x":36,"y":-180},{"p":6,"c":"t","s":"dot","x":34,"y":-165},{"p":6,"c":"t","s":"dot","x":34,"y":-152},{"p":6,"c":"t","s":"dot","x":44,"y":-144},{"p":6,"c":"t","s":"dot","x":58,"y":-136},{"p":6,"c":"t","s":"dot","x":68,"y":-122},{"p":6,"c":"t","s":"dot","x":72,"y":-104},{"p":6,"c":"t","s":"dot","x":74,"y":-86},{"p":6,"c":"t","s":"dot","x":76,"y":-72},{"p":6,"c":"t","s":"dot","x":86,"y":-66},{"p":6,"c":"t","s":"dot","x":100,"y":-66},{"p":6,"c":"t","s":"dot","x":115,"y":-70},{"p":6,"c":"t","s":"dot","x":132,"y":-76},{"p":6,"c":"t","s":"dot","x":148,"y":-86},{"p":6,"c":"t","s":"dot","x":158,"y":-92},{"p":6,"c":"t","s":"dot","x":162,"y":-104},{"p":6,"c":"t","s":"dot","x":162,"y":-118},{"p":6,"c":"t","s":"dot","x":166,"y":-128},{"p":6,"c":"t","s":"dot","x":172,"y":-136},{"p":6,"c":"t","s":"dot","x":180,"y":-140},
{"p":6,"c":"u","s":"solid","x":180,"y":-134},{"p":6,"c":"u","s":"solid","x":168,"y":-134},{"p":6,"c":"u","s":"solid","x":152,"y":-135},{"p":6,"c":"u","s":"solid","x":137,"y":-139},{"p":6,"c":"u","s":"solid","x":128,"y":-148},{"p":6,"c":"u","s":"solid","x":124,"y":-162},{"p":6,"c":"u","s":"solid","x":124,"y":-180},
{"p":6,"c":"v","s":"dd","x":180,"y":-126},{"p":6,"c":"v","s":"dd","x":168,"y":-127},{"p":6,"c":"v","s":"dd","x":150,"y":-128},{"p":6,"c":"v","s":"dd","x":134,"y":-132},{"p":6,"c":"v","s":"dd","x":122,"y":-142},{"p":6,"c":"v","s":"dd","x":118,"y":-158},{"p":6,"c":"v","s":"dd","x":118,"y":-180},
{"p":6,"c":"w","s":"dot","x":180,"y":-142},{"p":6,"c":"w","s":"dot","x":168,"y":-141},{"p":6,"c":"w","s":"dot","x":154,"y":-142},{"p":6,"c":"w","s":"dot","x":142,"y":-146},{"p":6,"c":"w","s":"dot","x":134,"y":-154},{"p":6,"c":"w","s":"dot","x":130,"y":-166},{"p":6,"c":"w","s":"dot","x":130,"y":-180},
{"p":6,"c":"x","s":"dot","x":36,"y":-178},{"p":6,"c":"x","s":"dot","x":42,"y":-172},{"p":6,"c":"x","s":"dot","x":62,"y":-170},{"p":6,"c":"x","s":"dot","x":87,"y":-168},{"p":6,"c":"x","s":"dot","x":111,"y":-172},{"p":6,"c":"x","s":"dot","x":119,"y":-176},
{"p":6,"c":"y","s":"ddd","x":-176.8,"y":-74.5},{"p":6,"c":"y","s":"ddd","x":-174.7,"y":-82.6},{"p":6,"c":"y","s":"ddd","x":-176.8,"y":-102.9},{"p":6,"c":"y","s":"ddd","x":-178.8,"y":-123.2},{"p":6,"c":"y","s":"ddd","x":-180,"y":-139.4},
{"p":6,"c":"aE","s":"arrow","x":-26.8,"y":79.7},{"p":6,"c":"aE","s":"arrow","x":32.6,"y":67.6},{"p":6,"c":"aE","s":"arrow","x":34,"y":75.7},{"p":6,"c":"aE","s":"arrow","x":76.6,"y":60.3},{"p":6,"c":"aE","s":"arrow","x":31.2,"y":59.5},{"p":6,"c":"aE","s":"arrow","x":32.6,"y":67.6},
{"p":6,"c":"aD","s":"arrow","x":11.8,"y":-35.9},{"p":6,"c":"aD","s":"arrow","x":43.5,"y":-62.3},{"p":6,"c":"aD","s":"arrow","x":48.2,"y":-56.2},{"p":6,"c":"aD","s":"arrow","x":82.7,"y":-90.7},{"p":6,"c":"aD","s":"arrow","x":38.9,"y":-68.4},{"p":6,"c":"aD","s":"arrow","x":43.5,"y":-62.3},
{"p":6,"c":"aC","s":"arrow","x":149.6,"y":-1.4},{"p":6,"c":"aC","s":"arrow","x":152.6,"y":-61.3},{"p":6,"c":"aC","s":"arrow","x":143.5,"y":-62.3},{"p":6,"c":"aC","s":"arrow","x":151.6,"y":-104.9},{"p":6,"c":"aC","s":"arrow","x":161.8,"y":-60.3},{"p":6,"c":"aC","s":"arrow","x":152.6,"y":-61.3},
{"p":6,"c":"aA","s":"arrow","x":-49,"y":-148.4},{"p":6,"c":"aA","s":"arrow","x":16.8,"y":-153},{"p":6,"c":"aA","s":"arrow","x":17.8,"y":-145.5},{"p":6,"c":"aA","s":"arrow","x":58.4,"y":-155.7},{"p":6,"c":"aA","s":"arrow","x":15.8,"y":-160.5},{"p":6,"c":"aA","s":"arrow","x":16.8,"y":-153}
],
"labels":[
{"p":1,"t":"E","x":-18,"y":79},{"p":1,"t":"D","x":2,"y":-41},{"p":1,"t":"C","x":164,"y":28},{"p":1,"t":"A","x":-51,"y":-129},
{"p":2,"t":"D","x":-31,"y":-55.5},{"p":2,"t":"C","x":118,"y":44.5},{"p":2,"t":"A","x":-67,"y":-147.4},
{"p":3,"t":"E","x":-35,"y":86},{"p":3,"t":"C","x":160,"y":14},{"p":3,"t":"A","x":-59,"y":-127},
{"p":4,"t":"E","x":-43,"y":114},{"p":4,"t":"B","x":23,"y":-37},{"p":4,"t":"C","x":156,"y":-4.5},{"p":4,"t":"A","x":-71,"y":-141},
{"p":5,"t":"E","x":-34,"y":87},{"p":5,"t":"B","x":11,"y":-43},{"p":5,"t":"A","x":-63,"y":-142},
{"p":6,"t":"E","x":-41,"y":86},{"p":6,"t":"D","x":4,"y":-22},{"p":6,"t":"C","x":156,"y":21},{"p":6,"t":"A","x":-61,"y":-148}
]
},
"spacing":130,
"vconcat":[
{"spacing":93,"hconcat":[
{"width":296,"height":294,"title":{"text":"C − S1"},"resolve":{"axis":{"x":"independent","y":"independent"}},"layer":[
{"data":{"name":"lines"},"transform":[{"filter":"datum.p == 1"}],"mark":{"type":"line","order":false,"strokeWidth":1.2,"color":"black"},
"encoding":{"x":{"field":"x","type":"quantitative","scale":{"domain":[-180,180],"nice":false,"zero":false},"axis":{"orient":"bottom","values":[-180,-170,-160,-150,-140,-130,-120,-110,-100,-90,-80,-70,-60,-50,-40,-30,-20,-10,0,10,20,30,40,50,60,70,80,90,100,110,120,130,140,150,160,170,180],"labelExpr":"datum.value % 60 === 0 ? datum.label : ''","tickSize":{"condition":{"test":"datum.value % 30 === 0","value":13},"value":8},"labelFontSize":17,"labelPadding":14}},
"y":{"field":"y","type":"quantitative","scale":{"domain":[-180,180],"nice":false,"zero":false},"axis":{"orient":"left","values":[-180,-170,-160,-150,-140,-130,-120,-110,-100,-90,-80,-70,-60,-50,-40,-30,-20,-10,0,10,20,30,40,50,60,70,80,90,100,110,120,130,140,150,160,170,180],"labelExpr":"datum.value % 60 === 0 ? datum.label : ''","tickSize":{"condition":{"test":"datum.value % 30 === 0","value":12},"value":6},"labelFontSize":15,"labelAngle":-90,"labelAlign":"center","labelBaseline":"bottom","labelPadding":12}},
"detail":{"field":"c","type":"nominal"},
"strokeDash":{"field":"s","type":"nominal","legend":null,"scale":{"domain":["solid","dash","dd","dot","ddd","arrow"],"range":[[1,0],[7,4],[7,3,1.5,3],[1.5,2.5],[6,2,1.5,2,1.5,2],[1,0]]}}}},
{"data":{"name":"labels"},"transform":[{"filter":"datum.p == 1"}],"mark":{"type":"text","font":"Liberation Sans","fontSize":16,"fontWeight":"bold","color":"black","align":"center","baseline":"middle"},
"encoding":{"x":{"field":"x","type":"quantitative","axis":{"orient":"top","labels":false,"values":[-180,-170,-160,-150,-140,-130,-120,-110,-100,-90,-80,-70,-60,-50,-40,-30,-20,-10,0,10,20,30,40,50,60,70,80,90,100,110,120,130,140,150,160,170,180],"tickSize":{"condition":{"test":"datum.value % 30 === 0","value":13},"value":6}}},
"y":{"field":"y","type":"quantitative","axis":{"orient":"right","labels":false,"values":[-180,-170,-160,-150,-140,-130,-120,-110,-100,-90,-80,-70,-60,-50,-40,-30,-20,-10,0,10,20,30,40,50,60,70,80,90,100,110,120,130,140,150,160,170,180],"tickSize":{"condition":{"test":"datum.value % 30 === 0","value":7},"value":4}}},
"text":{"field":"t","type":"nominal"}}}
]},
{"width":296,"height":294,"title":{"text":"C − S2"},"resolve":{"axis":{"x":"independent","y":"independent"}},"layer":[
{"data":{"name":"lines"},"transform":[{"filter":"datum.p == 2"}],"mark":{"type":"line","order":false,"strokeWidth":1.2,"color":"black"},
"encoding":{"x":{"field":"x","type":"quantitative","scale":{"domain":[-180,180],"nice":false,"zero":false},"axis":{"orient":"bottom","values":[-180,-170,-160,-150,-140,-130,-120,-110,-100,-90,-80,-70,-60,-50,-40,-30,-20,-10,0,10,20,30,40,50,60,70,80,90,100,110,120,130,140,150,160,170,180],"labelExpr":"datum.value % 60 === 0 ? datum.label : ''","tickSize":{"condition":{"test":"datum.value % 30 === 0","value":13},"value":8},"labelFontSize":17,"labelPadding":14}},
"y":{"field":"y","type":"quantitative","scale":{"domain":[-180,180],"nice":false,"zero":false},"axis":{"orient":"left","values":[-180,-170,-160,-150,-140,-130,-120,-110,-100,-90,-80,-70,-60,-50,-40,-30,-20,-10,0,10,20,30,40,50,60,70,80,90,100,110,120,130,140,150,160,170,180],"labelExpr":"datum.value % 60 === 0 ? datum.label : ''","tickSize":{"condition":{"test":"datum.value % 30 === 0","value":12},"value":6},"labelFontSize":15,"labelAngle":-90,"labelAlign":"center","labelBaseline":"bottom","labelPadding":12}},
"detail":{"field":"c","type":"nominal"},
"strokeDash":{"field":"s","type":"nominal","legend":null,"scale":{"domain":["solid","dash","dd","dot","ddd","arrow"],"range":[[1,0],[7,4],[7,3,1.5,3],[1.5,2.5],[6,2,1.5,2,1.5,2],[1,0]]}}}},
{"data":{"name":"labels"},"transform":[{"filter":"datum.p == 2"}],"mark":{"type":"text","font":"Liberation Sans","fontSize":16,"fontWeight":"bold","color":"black","align":"center","baseline":"middle"},
"encoding":{"x":{"field":"x","type":"quantitative","axis":{"orient":"top","labels":false,"values":[-180,-170,-160,-150,-140,-130,-120,-110,-100,-90,-80,-70,-60,-50,-40,-30,-20,-10,0,10,20,30,40,50,60,70,80,90,100,110,120,130,140,150,160,170,180],"tickSize":{"condition":{"test":"datum.value % 30 === 0","value":13},"value":6}}},
"y":{"field":"y","type":"quantitative","axis":{"orient":"right","labels":false,"values":[-180,-170,-160,-150,-140,-130,-120,-110,-100,-90,-80,-70,-60,-50,-40,-30,-20,-10,0,10,20,30,40,50,60,70,80,90,100,110,120,130,140,150,160,170,180],"tickSize":{"condition":{"test":"datum.value % 30 === 0","value":7},"value":4}}},
"text":{"field":"t","type":"nominal"}}}
]}
]},
{"spacing":93,"hconcat":[
{"width":296,"height":294,"title":{"text":"C − S3"},"resolve":{"axis":{"x":"independent","y":"independent"}},"layer":[
{"data":{"name":"lines"},"transform":[{"filter":"datum.p == 3"}],"mark":{"type":"line","order":false,"strokeWidth":1.2,"color":"black"},
"encoding":{"x":{"field":"x","type":"quantitative","scale":{"domain":[-180,180],"nice":false,"zero":false},"axis":{"orient":"bottom","values":[-180,-170,-160,-150,-140,-130,-120,-110,-100,-90,-80,-70,-60,-50,-40,-30,-20,-10,0,10,20,30,40,50,60,70,80,90,100,110,120,130,140,150,160,170,180],"labelExpr":"datum.value % 60 === 0 ? datum.label : ''","tickSize":{"condition":{"test":"datum.value % 30 === 0","value":13},"value":8},"labelFontSize":17,"labelPadding":14}},
"y":{"field":"y","type":"quantitative","scale":{"domain":[-180,180],"nice":false,"zero":false},"axis":{"orient":"left","values":[-180,-170,-160,-150,-140,-130,-120,-110,-100,-90,-80,-70,-60,-50,-40,-30,-20,-10,0,10,20,30,40,50,60,70,80,90,100,110,120,130,140,150,160,170,180],"labelExpr":"datum.value % 60 === 0 ? datum.label : ''","tickSize":{"condition":{"test":"datum.value % 30 === 0","value":12},"value":6},"labelFontSize":15,"labelAngle":-90,"labelAlign":"center","labelBaseline":"bottom","labelPadding":12}},
"detail":{"field":"c","type":"nominal"},
"strokeDash":{"field":"s","type":"nominal","legend":null,"scale":{"domain":["solid","dash","dd","dot","ddd","arrow"],"range":[[1,0],[7,4],[7,3,1.5,3],[1.5,2.5],[6,2,1.5,2,1.5,2],[1,0]]}}}},
{"data":{"name":"labels"},"transform":[{"filter":"datum.p == 3"}],"mark":{"type":"text","font":"Liberation Sans","fontSize":16,"fontWeight":"bold","color":"black","align":"center","baseline":"middle"},
"encoding":{"x":{"field":"x","type":"quantitative","axis":{"orient":"top","labels":false,"values":[-180,-170,-160,-150,-140,-130,-120,-110,-100,-90,-80,-70,-60,-50,-40,-30,-20,-10,0,10,20,30,40,50,60,70,80,90,100,110,120,130,140,150,160,170,180],"tickSize":{"condition":{"test":"datum.value % 30 === 0","value":13},"value":6}}},
"y":{"field":"y","type":"quantitative","axis":{"orient":"right","labels":false,"values":[-180,-170,-160,-150,-140,-130,-120,-110,-100,-90,-80,-70,-60,-50,-40,-30,-20,-10,0,10,20,30,40,50,60,70,80,90,100,110,120,130,140,150,160,170,180],"tickSize":{"condition":{"test":"datum.value % 30 === 0","value":7},"value":4}}},
"text":{"field":"t","type":"nominal"}}}
]},
{"width":296,"height":294,"title":{"text":"C − S4"},"resolve":{"axis":{"x":"independent","y":"independent"}},"layer":[
{"data":{"name":"lines"},"transform":[{"filter":"datum.p == 4"}],"mark":{"type":"line","order":false,"strokeWidth":1.2,"color":"black"},
"encoding":{"x":{"field":"x","type":"quantitative","scale":{"domain":[-180,180],"nice":false,"zero":false},"axis":{"orient":"bottom","values":[-180,-170,-160,-150,-140,-130,-120,-110,-100,-90,-80,-70,-60,-50,-40,-30,-20,-10,0,10,20,30,40,50,60,70,80,90,100,110,120,130,140,150,160,170,180],"labelExpr":"datum.value % 60 === 0 ? datum.label : ''","tickSize":{"condition":{"test":"datum.value % 30 === 0","value":13},"value":8},"labelFontSize":17,"labelPadding":14}},
"y":{"field":"y","type":"quantitative","scale":{"domain":[-180,180],"nice":false,"zero":false},"axis":{"orient":"left","values":[-180,-170,-160,-150,-140,-130,-120,-110,-100,-90,-80,-70,-60,-50,-40,-30,-20,-10,0,10,20,30,40,50,60,70,80,90,100,110,120,130,140,150,160,170,180],"labelExpr":"datum.value % 60 === 0 ? datum.label : ''","tickSize":{"condition":{"test":"datum.value % 30 === 0","value":12},"value":6},"labelFontSize":15,"labelAngle":-90,"labelAlign":"center","labelBaseline":"bottom","labelPadding":12}},
"detail":{"field":"c","type":"nominal"},
"strokeDash":{"field":"s","type":"nominal","legend":null,"scale":{"domain":["solid","dash","dd","dot","ddd","arrow"],"range":[[1,0],[7,4],[7,3,1.5,3],[1.5,2.5],[6,2,1.5,2,1.5,2],[1,0]]}}}},
{"data":{"name":"labels"},"transform":[{"filter":"datum.p == 4"}],"mark":{"type":"text","font":"Liberation Sans","fontSize":16,"fontWeight":"bold","color":"black","align":"center","baseline":"middle"},
"encoding":{"x":{"field":"x","type":"quantitative","axis":{"orient":"top","labels":false,"values":[-180,-170,-160,-150,-140,-130,-120,-110,-100,-90,-80,-70,-60,-50,-40,-30,-20,-10,0,10,20,30,40,50,60,70,80,90,100,110,120,130,140,150,160,170,180],"tickSize":{"condition":{"test":"datum.value % 30 === 0","value":13},"value":6}}},
"y":{"field":"y","type":"quantitative","axis":{"orient":"right","labels":false,"values":[-180,-170,-160,-150,-140,-130,-120,-110,-100,-90,-80,-70,-60,-50,-40,-30,-20,-10,0,10,20,30,40,50,60,70,80,90,100,110,120,130,140,150,160,170,180],"tickSize":{"condition":{"test":"datum.value % 30 === 0","value":7},"value":4}}},
"text":{"field":"t","type":"nominal"}}}
]}
]},
{"spacing":93,"hconcat":[
{"width":296,"height":294,"title":{"text":"C − S5"},"resolve":{"axis":{"x":"independent","y":"independent"}},"layer":[
{"data":{"name":"lines"},"transform":[{"filter":"datum.p == 5"}],"mark":{"type":"line","order":false,"strokeWidth":1.2,"color":"black"},
"encoding":{"x":{"field":"x","type":"quantitative","scale":{"domain":[-180,180],"nice":false,"zero":false},"axis":{"orient":"bottom","values":[-180,-170,-160,-150,-140,-130,-120,-110,-100,-90,-80,-70,-60,-50,-40,-30,-20,-10,0,10,20,30,40,50,60,70,80,90,100,110,120,130,140,150,160,170,180],"labelExpr":"datum.value % 60 === 0 ? datum.label : ''","tickSize":{"condition":{"test":"datum.value % 30 === 0","value":13},"value":8},"labelFontSize":17,"labelPadding":14}},
"y":{"field":"y","type":"quantitative","scale":{"domain":[-180,180],"nice":false,"zero":false},"axis":{"orient":"left","values":[-180,-170,-160,-150,-140,-130,-120,-110,-100,-90,-80,-70,-60,-50,-40,-30,-20,-10,0,10,20,30,40,50,60,70,80,90,100,110,120,130,140,150,160,170,180],"labelExpr":"datum.value % 60 === 0 ? datum.label : ''","tickSize":{"condition":{"test":"datum.value % 30 === 0","value":12},"value":6},"labelFontSize":15,"labelAngle":-90,"labelAlign":"center","labelBaseline":"bottom","labelPadding":12}},
"detail":{"field":"c","type":"nominal"},
"strokeDash":{"field":"s","type":"nominal","legend":null,"scale":{"domain":["solid","dash","dd","dot","ddd","arrow"],"range":[[1,0],[7,4],[7,3,1.5,3],[1.5,2.5],[6,2,1.5,2,1.5,2],[1,0]]}}}},
{"data":{"name":"labels"},"transform":[{"filter":"datum.p == 5"}],"mark":{"type":"text","font":"Liberation Sans","fontSize":16,"fontWeight":"bold","color":"black","align":"center","baseline":"middle"},
"encoding":{"x":{"field":"x","type":"quantitative","axis":{"orient":"top","labels":false,"values":[-180,-170,-160,-150,-140,-130,-120,-110,-100,-90,-80,-70,-60,-50,-40,-30,-20,-10,0,10,20,30,40,50,60,70,80,90,100,110,120,130,140,150,160,170,180],"tickSize":{"condition":{"test":"datum.value % 30 === 0","value":13},"value":6}}},
"y":{"field":"y","type":"quantitative","axis":{"orient":"right","labels":false,"values":[-180,-170,-160,-150,-140,-130,-120,-110,-100,-90,-80,-70,-60,-50,-40,-30,-20,-10,0,10,20,30,40,50,60,70,80,90,100,110,120,130,140,150,160,170,180],"tickSize":{"condition":{"test":"datum.value % 30 === 0","value":7},"value":4}}},
"text":{"field":"t","type":"nominal"}}}
]},
{"width":296,"height":294,"title":{"text":"C − S6"},"resolve":{"axis":{"x":"independent","y":"independent"}},"layer":[
{"data":{"name":"lines"},"transform":[{"filter":"datum.p == 6"}],"mark":{"type":"line","order":false,"strokeWidth":1.2,"color":"black"},
"encoding":{"x":{"field":"x","type":"quantitative","scale":{"domain":[-180,180],"nice":false,"zero":false},"axis":{"orient":"bottom","values":[-180,-170,-160,-150,-140,-130,-120,-110,-100,-90,-80,-70,-60,-50,-40,-30,-20,-10,0,10,20,30,40,50,60,70,80,90,100,110,120,130,140,150,160,170,180],"labelExpr":"datum.value % 60 === 0 ? datum.label : ''","tickSize":{"condition":{"test":"datum.value % 30 === 0","value":13},"value":8},"labelFontSize":17,"labelPadding":14}},
"y":{"field":"y","type":"quantitative","scale":{"domain":[-180,180],"nice":false,"zero":false},"axis":{"orient":"left","values":[-180,-170,-160,-150,-140,-130,-120,-110,-100,-90,-80,-70,-60,-50,-40,-30,-20,-10,0,10,20,30,40,50,60,70,80,90,100,110,120,130,140,150,160,170,180],"labelExpr":"datum.value % 60 === 0 ? datum.label : ''","tickSize":{"condition":{"test":"datum.value % 30 === 0","value":12},"value":6},"labelFontSize":15,"labelAngle":-90,"labelAlign":"center","labelBaseline":"bottom","labelPadding":12}},
"detail":{"field":"c","type":"nominal"},
"strokeDash":{"field":"s","type":"nominal","legend":null,"scale":{"domain":["solid","dash","dd","dot","ddd","arrow"],"range":[[1,0],[7,4],[7,3,1.5,3],[1.5,2.5],[6,2,1.5,2,1.5,2],[1,0]]}}}},
{"data":{"name":"labels"},"transform":[{"filter":"datum.p == 6"}],"mark":{"type":"text","font":"Liberation Sans","fontSize":16,"fontWeight":"bold","color":"black","align":"center","baseline":"middle"},
"encoding":{"x":{"field":"x","type":"quantitative","axis":{"orient":"top","labels":false,"values":[-180,-170,-160,-150,-140,-130,-120,-110,-100,-90,-80,-70,-60,-50,-40,-30,-20,-10,0,10,20,30,40,50,60,70,80,90,100,110,120,130,140,150,160,170,180],"tickSize":{"condition":{"test":"datum.value % 30 === 0","value":13},"value":6}}},
"y":{"field":"y","type":"quantitative","axis":{"orient":"right","labels":false,"values":[-180,-170,-160,-150,-140,-130,-120,-110,-100,-90,-80,-70,-60,-50,-40,-30,-20,-10,0,10,20,30,40,50,60,70,80,90,100,110,120,130,140,150,160,170,180],"tickSize":{"condition":{"test":"datum.value % 30 === 0","value":7},"value":4}}},
"text":{"field":"t","type":"nominal"}}}
]}
]}
]
}
